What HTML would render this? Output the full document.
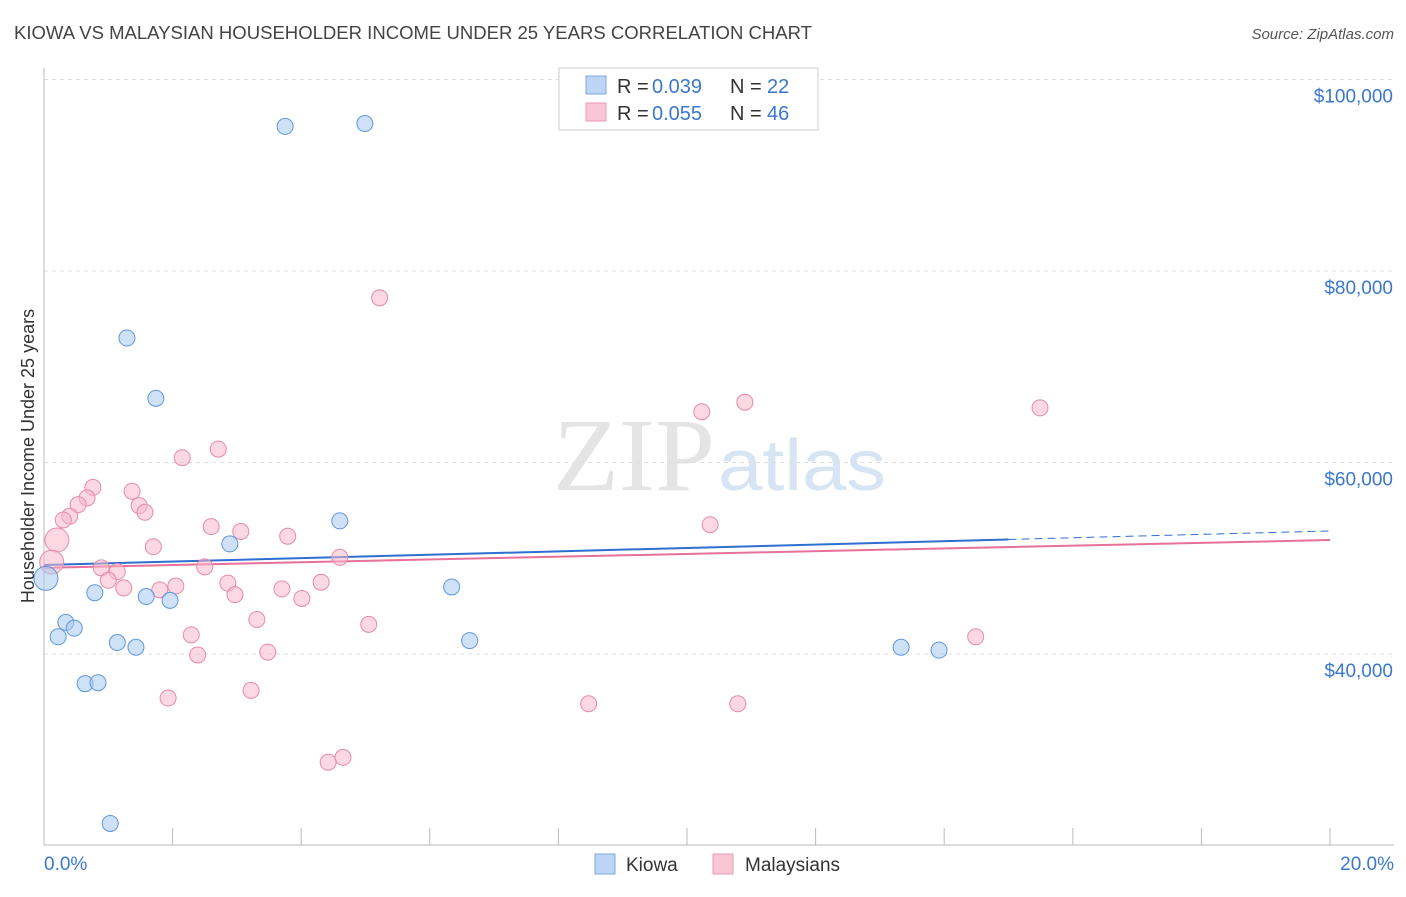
<!DOCTYPE html>
<html><head><meta charset="utf-8"><style>
body{margin:0;background:#fff;font-family:"Liberation Sans",sans-serif}
</style></head><body>
<svg id="chart" width="1406" height="892" xmlns="http://www.w3.org/2000/svg" style="font-family:'Liberation Sans',sans-serif">
<text x="14" y="39" font-size="18" fill="#444" textLength="798" lengthAdjust="spacingAndGlyphs">KIOWA VS MALAYSIAN HOUSEHOLDER INCOME UNDER 25 YEARS CORRELATION CHART</text>
<text x="1394" y="39" font-size="15" fill="#555" text-anchor="end" font-style="italic">Source: ZipAtlas.com</text>
<text x="553" y="490" font-size="104" fill="#e4e4e4" font-family="Liberation Serif" textLength="162" lengthAdjust="spacingAndGlyphs">ZIP</text>
<text x="718" y="490" font-size="72" fill="#d6e4f4" textLength="168" lengthAdjust="spacingAndGlyphs">atlas</text>
<g id="grid"></g><g id="axes"></g><g id="lines"></g><g id="points"></g>
<text transform="translate(34,456) rotate(-90)" font-size="18" fill="#333" text-anchor="middle">Householder Income Under 25 years</text>
<g>
<rect x="559" y="68" width="259" height="62" fill="#fff" stroke="#ccc"/>
<rect x="586" y="76" width="20" height="18" fill="#bcd5f5" stroke="#7aa8e0"/>
<rect x="586" y="103" width="20" height="18" fill="#f9c6d5" stroke="#ea9ab3"/>
<text x="617" y="93" font-size="20" fill="#333">R =</text><text x="652" y="93" font-size="20" fill="#3a78d0">0.039</text>
<text x="730" y="93" font-size="20" fill="#333">N =</text><text x="767" y="93" font-size="20" fill="#3a78d0">22</text>
<text x="617" y="120" font-size="20" fill="#333">R =</text><text x="652" y="120" font-size="20" fill="#3a78d0">0.055</text>
<text x="730" y="120" font-size="20" fill="#333">N =</text><text x="767" y="120" font-size="20" fill="#3a78d0">46</text>
</g>
<g>
<rect x="595" y="854" width="20" height="20" fill="#bcd5f5" stroke="#7aa8e0"/>
<text x="626" y="871" font-size="19" fill="#333">Kiowa</text>
<rect x="713" y="854" width="20" height="20" fill="#f9c6d5" stroke="#ea9ab3"/>
<text x="745" y="871" font-size="19" fill="#333">Malaysians</text>
</g>
</svg>
<script>
const yTicks=[40000,60000,80000,100000];
const yTickLabels=["$40,000","$60,000","$80,000","$100,000"];
const xLabels=["0.0%","20.0%"];
const kiowaX=[3.75,4.99,1.29,1.74,4.60,2.89,0.03,0.79,1.59,1.96,6.34,0.34,0.47,0.22,1.14,1.43,6.62,13.33,13.92,0.64,0.84,1.03];
const kiowaY=[95100,95400,73000,66700,53900,51500,47900,46400,46000,45600,47000,43300,42700,41800,41200,40700,41400,40700,40400,36900,37000,22300];
const kiowaBig=[6];
const malX=[5.22,10.90,10.23,15.49,2.71,2.15,0.76,1.37,0.67,0.53,1.48,1.57,0.40,0.30,2.60,3.06,10.36,3.79,0.20,1.70,4.60,0.12,0.89,2.50,1.14,1.00,2.86,4.31,1.24,2.05,1.80,3.70,2.97,4.01,3.31,5.05,2.29,14.49,2.39,3.48,3.22,1.93,8.47,10.79,4.42,4.65];
const malY=[77200,66300,65300,65700,61400,60500,57400,57000,56300,55600,55500,54800,54400,54000,53300,52800,53500,52300,51900,51200,50100,49600,49000,49100,48600,47700,47400,47500,46900,47100,46700,46800,46200,45800,43600,43100,42000,41800,39900,40200,36200,35400,34800,34800,28700,29200];
const malBig=[18,21];
const kiowaTrend=[49300,52850];
const malTrend=[49000,51900];
const NS="http://www.w3.org/2000/svg";
const X=v=>44+v/20*1286;
const Y=v=>79.5+(100000-v)/60000*574.5;
function mk(parent,tag,attrs){const e=document.createElementNS(NS,tag);for(const k in attrs)e.setAttribute(k,attrs[k]);document.getElementById(parent).appendChild(e);return e;}
yTicks.forEach((t,i)=>{
 const l=mk('grid','line',{x1:44,x2:1394,y1:Y(t),y2:Y(t),stroke:'#ddd','stroke-dasharray':'4,4'});
 
 
 const tx=mk('axes','text',{x:1393,y:Y(t)+23,'font-size':19,fill:'#3a78d0','text-anchor':'end'});
 tx.textContent=yTickLabels[i];
 
 
});
const ax=mk('axes','line',{x1:44,x2:1394,y1:845,y2:845,stroke:'#bbb'});


const ay=mk('axes','line',{x1:44,x2:44,y1:68,y2:845,stroke:'#bbb'});


for(let i=0;i<=20;i+=2){
 const t=mk('axes','line',{x1:X(i),x2:X(i),y1:828,y2:845,stroke:'#bbb'});
 
 
}
[[0,'start',44],[20,'end',1394]].forEach((d,i)=>{
 const t=mk('axes','text',{x:d[2],y:870,'font-size':19,fill:'#3a78d0','text-anchor':d[1]});
 t.textContent=xLabels[i];
 
 
});
function pts(xs,ys,big,fill,stroke,name){
 xs.forEach((x,i)=>{
  const b=big.includes(i);
  const c=mk('points','circle',{cx:X(x),cy:Y(ys[i]),r:b?12:8,fill:fill,'fill-opacity':0.55,stroke:stroke,'stroke-width':1});
  
  
 });
}
pts(malX,malY,malBig,'#f7b8cb','#e88aa8','malaysians-point');
pts(kiowaX,kiowaY,kiowaBig,'#a8c8f0','#5f97dc','kiowa-point');
const pl=mk('lines','line',{x1:X(0),x2:X(20),y1:Y(malTrend[0]),y2:Y(malTrend[1]),stroke:'#e8709a','stroke-width':2});


const kAt=x=>kiowaTrend[0]+(kiowaTrend[1]-kiowaTrend[0])*x/20;
const kl=mk('lines','line',{x1:X(0),x2:X(15),y1:Y(kAt(0)),y2:Y(kAt(15)),stroke:'#2e6fcf','stroke-width':2});


const kd=mk('lines','line',{x1:X(15),x2:X(20),y1:Y(kAt(15)),y2:Y(kAt(20)),stroke:'#2e6fcf','stroke-width':1,'stroke-dasharray':'8,5'});


</script>
</body></html>
